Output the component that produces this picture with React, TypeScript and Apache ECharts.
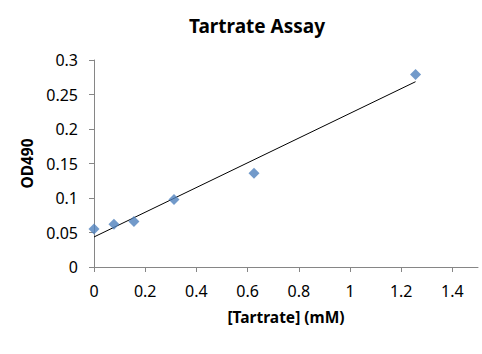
import React, { useEffect, useRef } from "react";
import * as echarts from "echarts";

const tartrateMM = [0, 0.078, 0.156, 0.3125, 0.625, 1.256];
const od490 = [0.055, 0.062, 0.066, 0.098, 0.136, 0.279];
const xTickMax = 1.5;
const yTickMax = 0.3;

function fitLine(xs: number[], ys: number[]) {
  const n = xs.length;
  const mx = xs.reduce((a, b) => a + b, 0) / n;
  const my = ys.reduce((a, b) => a + b, 0) / n;
  let sxy = 0, sxx = 0;
  for (let i = 0; i < n; i++) {
    sxy += (xs[i] - mx) * (ys[i] - my);
    sxx += (xs[i] - mx) * (xs[i] - mx);
  }
  const slope = sxy / sxx;
  return { slope, intercept: my - slope * mx };
}

export default function App() {
  const ref = useRef<HTMLDivElement>(null);
  useEffect(() => {
    if (!ref.current) return;
    const chart = echarts.init(ref.current, null, { renderer: "svg" });
    const { slope, intercept } = fitLine(tartrateMM, od490);
    const x0 = Math.min(...tartrateMM);
    const x1 = Math.max(...tartrateMM);
    const font = "'Noto Sans', 'Open Sans', sans-serif";
    chart.setOption({
      animation: false,
      backgroundColor: "#ffffff",
      title: {
        text: "Tartrate Assay",
        left: 252,
        top: 11,
        textAlign: "center",
        textStyle: { fontFamily: font, fontSize: 19, fontWeight: "bold", color: "#000" },
      },
      grid: { left: 94, right: 4, top: 60, bottom: 87 },
      xAxis: {
        type: "value",
        min: 0,
        max: xTickMax,
        interval: 0.2,
        name: "[Tartrate] (mM)",
        nameLocation: "middle",
        nameGap: 42,
        nameTextStyle: { fontFamily: font, fontSize: 15.5, fontWeight: "bold", color: "#000" },
        splitLine: { show: false },
        axisLine: { lineStyle: { color: "#868686", width: 1 } },
        axisTick: { show: true, length: 5, lineStyle: { color: "#868686" } },
        axisLabel: {
          showMaxLabel: false,
          margin: 16,
          fontFamily: font,
          fontSize: 16,
          color: "#000",
          formatter: (v: number) => (v > 1.45 ? "" : String(Math.round(v * 10) / 10)),
        },
      },
      yAxis: {
        type: "value",
        min: 0,
        max: yTickMax,
        interval: 0.05,
        name: "OD490",
        nameLocation: "middle",
        nameGap: 55,
        nameTextStyle: { fontFamily: font, fontSize: 15.5, fontWeight: "bold", color: "#000" },
        splitLine: { show: false },
        axisLine: { show: true, lineStyle: { color: "#868686", width: 1 } },
        axisTick: { show: true, length: 5, lineStyle: { color: "#868686" } },
        axisLabel: {
          margin: 16,
          fontFamily: font,
          fontSize: 16,
          color: "#000",
          formatter: (v: number) => String(Math.round(v * 100) / 100),
        },
      },
      series: [
        {
          type: "line",
          data: [
            [x0, intercept + slope * x0],
            [x1, intercept + slope * x1],
          ],
          showSymbol: false,
          symbol: "none",
          lineStyle: { color: "#000", width: 1 },
          z: 1,
        },
        {
          type: "scatter",
          data: tartrateMM.map((x, i) => [x, od490[i]]),
          symbol: "diamond",
          symbolSize: 11,
          itemStyle: { color: "#4F81BD" },
          z: 2,
        },
      ],
    });
    return () => chart.dispose();
  }, []);
  return <div ref={ref} style={{ width: 482, height: 354, position: "absolute", left: 0, top: 0 }} />;
}
